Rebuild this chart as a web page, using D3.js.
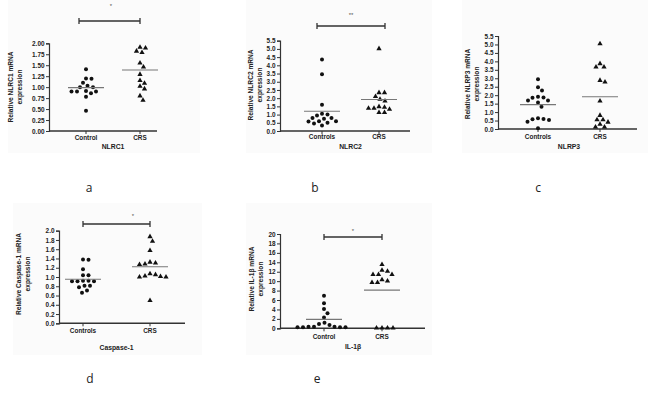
<!DOCTYPE html>
<html><head><meta charset="utf-8">
<script src="https://cdn.jsdelivr.net/npm/d3@7"></script>
<style>body{margin:0;background:#fff}svg{display:block}</style></head>
<body>
<script>
// ---------- data ----------
const groupsSingular = ["Control", "CRS"];
const groupsPlural = ["Controls", "CRS"];

const nlrc1Control = [1.41,1.20,1.19,1.10,1.03,1.00,1.00,0.91,0.90,0.90,0.90,0.86,0.78,0.46];
const nlrc1CRS     = [1.92,1.90,1.83,1.80,1.56,1.47,1.30,1.16,1.10,1.03,0.97,0.81,0.71];
const nlrc1Means   = [0.99,1.39];
const nlrc1Ticks   = [0,0.25,0.5,0.75,1.0,1.25,1.5,1.75,2.0];

const nlrc2Control = [4.35,3.45,1.60,1.05,1.00,0.95,0.79,0.79,0.75,0.60,0.60,0.58,0.50,0.46,0.34];
const nlrc2CRS     = [5.04,2.36,2.36,2.12,1.96,1.85,1.51,1.47,1.41,1.41,1.35,1.15,1.15];
const nlrc2Means   = [1.20,1.92];

const nlrp3Control = [2.94,2.47,2.27,1.91,1.87,1.85,1.68,1.68,1.56,1.32,0.63,0.59,0.57,0.53,0.43,0.04];
const nlrp3CRS     = [5.07,3.89,3.69,3.69,2.90,2.80,1.68,0.83,0.57,0.57,0.43,0.30,0.14,0.14];
const nlrp3Means   = [1.44,1.91];
const halfTicks    = [0,0.5,1.0,1.5,2.0,2.5,3.0,3.5,4.0,4.5,5.0,5.5];

const casp1Control = [1.38,1.37,1.17,1.04,1.04,0.92,0.92,0.91,0.91,0.91,0.81,0.81,0.78,0.71,0.66];
const casp1CRS     = [1.88,1.78,1.58,1.33,1.31,1.29,1.28,1.08,1.06,1.03,1.02,1.01,1.01,0.50];
const casp1Means   = [0.95,1.22];
const casp1Ticks   = [0,0.2,0.4,0.6,0.8,1.0,1.2,1.4,1.6,1.8,2.0];

const il1bControl  = [6.9,5.3,4.1,3.2,2.3,1.2,0.9,0.7,0.35,0.35,0.35,0.2,0.2,0.2,0.2];
const il1bCRS      = [13.6,12.4,12.2,11.5,11.5,11.5,10.4,10.1,9.8,9.8,0.15,0.15,0.15,0.15];
const il1bMeans    = [1.9,8.1];
const il1bTicks    = [0,2,4,6,8,10,12,14,16,18,20];

const panelLetters = ["a","b","c","d","e"];
const geneTitles   = ["NLRC1","NLRC2","NLRP3","Caspase-1","IL-1β"];
const yLabels      = ["Relative NLRC1 mRNA","Relative NLRC2 mRNA","Relative NLRP3 mRNA","Relative Caspase-1 mRNA","Relative IL-1β mRNA"];
const significance = ["*","**",null,"*","*"];

// ---------- layout ----------
const W = 650, H = 396;
const svg = d3.select("body").append("svg").attr("width", W).attr("height", H);

const panels = [
  {ctrl:nlrc1Control, crs:nlrc1CRS, means:nlrc1Means, groups:groupsSingular, ticks:nlrc1Ticks, fmt:d3.format(".2f"),
   ax:49, yTop:43.3, yBot:131, xEnd:157, cx:[86,140], tickY:140, titleY:149, ylx:[13,21.5], yly:87,
   br:{y:21, x0:79, x1:140}, star:[111,8], bg:[8,0,192,153], letter:[89,192]},
  {ctrl:nlrc2Control, crs:nlrc2CRS, means:nlrc2Means, groups:groupsPlural, ticks:halfTicks, fmt:d3.format(".1f"),
   ax:280, yTop:40.7, yBot:131, xEnd:410, cx:[322,379], tickY:139, titleY:149, ylx:[253,261.5], yly:85,
   br:{y:26, x0:317, x1:385}, star:[351,17], bg:[246,0,186,153], letter:[315,192]},
  {ctrl:nlrp3Control, crs:nlrp3CRS, means:nlrp3Means, groups:groupsPlural, ticks:halfTicks, fmt:d3.format(".1f"),
   ax:498, yTop:36, yBot:129, xEnd:637, cx:[538,600], tickY:139, titleY:149, ylx:[470,478.5], yly:84,
   br:null, star:null, bg:[462,0,186,153], letter:[538,192]},
  {ctrl:casp1Control, crs:casp1CRS, means:casp1Means, groups:groupsPlural, ticks:casp1Ticks, fmt:d3.format(".1f"),
   ax:59, yTop:230.7, yBot:323.3, xEnd:185, cx:[83,150], tickY:333, titleY:350, ylx:[21,29.5], yly:274,
   br:{y:224, x0:83, x1:150}, star:[133,218], bg:[13,203,189,152], letter:[90,383]},
  {ctrl:il1bControl, crs:il1bCRS, means:il1bMeans, groups:groupsSingular, ticks:il1bTicks, fmt:d3.format("d"),
   ax:280, yTop:234, yBot:328.3, xEnd:425, cx:[324,382], tickY:339, titleY:349, ylx:[254,262.5], yly:279,
   br:{y:237, x0:324, x1:382}, star:[353,233], bg:[246,203,186,152], letter:[317,383]}
];

const FONT = "'Liberation Sans', Arial, sans-serif";
const AX = "#333";

function swarm(values, y, cx, r) {
  const pts = values.map(v => ({v, y: y(v)})).sort((a, b) => a.y - b.y);
  const placed = [];
  const d2 = (2 * r + 1.2) ** 2;
  for (const p of pts) {
    for (let k = 0; k < 400; k++) {
      const off = (k % 2 ? 1 : -1) * Math.ceil(k / 2) * 0.5;
      const x = cx + off;
      if (placed.every(q => (q.x - x) ** 2 + (q.y - p.y) ** 2 >= d2)) { p.x = x; break; }
    }
    placed.push(p);
  }
  return placed;
}

panels.forEach((p, i) => {
  const g = svg.append("g");
  g.append("rect").attr("x", p.bg[0]).attr("y", p.bg[1]).attr("width", p.bg[2]).attr("height", p.bg[3])
    .attr("fill", "#fbfbfb");

  const yMax = d3.max(p.ticks);
  const y = d3.scaleLinear().domain([0, yMax]).range([p.yBot, p.yTop]);
  const x = d3.scaleOrdinal().domain(p.groups).range(p.cx);

  // y axis
  const yAxis = d3.axisLeft(y).tickValues(p.ticks).tickFormat(p.fmt).tickSize(3).tickPadding(1.5);
  const yg = g.append("g").attr("transform", `translate(${p.ax},0)`).call(yAxis);
  yg.select(".domain").attr("stroke", AX).attr("stroke-width", 1.2);
  yg.selectAll(".tick line").attr("stroke", AX).attr("stroke-width", 1);
  yg.selectAll(".tick text").attr("font-family", FONT).attr("font-size", 6.4).attr("font-weight", "bold").attr("fill", "#222");

  // x axis
  g.append("line").attr("x1", p.ax).attr("x2", p.xEnd).attr("y1", p.yBot).attr("y2", p.yBot)
    .attr("stroke", AX).attr("stroke-width", 1.5);
  p.groups.forEach(gr => {
    g.append("line").attr("x1", x(gr)).attr("x2", x(gr)).attr("y1", p.yBot).attr("y2", p.yBot + 3)
      .attr("stroke", AX).attr("stroke-width", 1);
    g.append("text").attr("x", x(gr)).attr("y", p.tickY).attr("text-anchor", "middle")
      .attr("font-family", FONT).attr("font-size", 6.4).attr("font-weight", "bold").attr("fill", "#222").text(gr);
  });

  // titles
  g.append("text").attr("x", (p.cx[0] + p.cx[1]) / 2).attr("y", p.titleY).attr("text-anchor", "middle")
    .attr("font-family", FONT).attr("font-size", 6.8).attr("font-weight", "bold").attr("fill", "#222").text(geneTitles[i]);
  [yLabels[i], "expression"].forEach((t, j) => {
    g.append("text").attr("transform", `translate(${p.ylx[j]},${p.yly}) rotate(-90)`).attr("text-anchor", "middle")
      .attr("font-family", FONT).attr("font-size", 6.6).attr("font-weight", "bold").attr("fill", "#222").text(t);
  });

  // points
  const r = 2.0;
  const cPts = swarm(p.ctrl, y, x(p.groups[0]), r);
  g.selectAll(".c").data(cPts).enter().append("circle")
    .attr("cx", d => d.x).attr("cy", d => d.y).attr("r", r).attr("fill", "#111");
  const tPts = swarm(p.crs, y, x(p.groups[1]), r);
  const tri = d3.symbol(d3.symbolTriangle).size(12);
  g.selectAll(".t").data(tPts).enter().append("path")
    .attr("d", tri).attr("transform", d => `translate(${d.x},${d.y + 0.4})`).attr("fill", "#111");

  // means
  p.groups.forEach((gr, j) => {
    g.append("line").attr("x1", x(gr) - 18).attr("x2", x(gr) + 18)
      .attr("y1", y(p.means[j])).attr("y2", y(p.means[j]))
      .attr("stroke", "#777").attr("stroke-width", 1.1);
  });

  // significance bracket
  if (p.br) {
    const b = p.br;
    g.append("path").attr("d", `M${b.x0},${b.y - 3}V${b.y + 3}M${b.x0},${b.y}H${b.x1}M${b.x1},${b.y - 3}V${b.y + 3}`)
      .attr("stroke", "#333").attr("stroke-width", 1.3).attr("fill", "none");
    g.append("text").attr("x", p.star[0]).attr("y", p.star[1]).attr("text-anchor", "middle")
      .attr("font-family", FONT).attr("font-size", 6).attr("fill", "#555").text(significance[i]);
  }

  // panel letter
  svg.append("text").attr("x", p.letter[0]).attr("y", p.letter[1]).attr("text-anchor", "middle")
    .attr("font-family", "'Open Sans', 'Liberation Sans', sans-serif").attr("font-size", 12).attr("fill", "#222")
    .text(panelLetters[i]);
});
</script>
</body></html>
